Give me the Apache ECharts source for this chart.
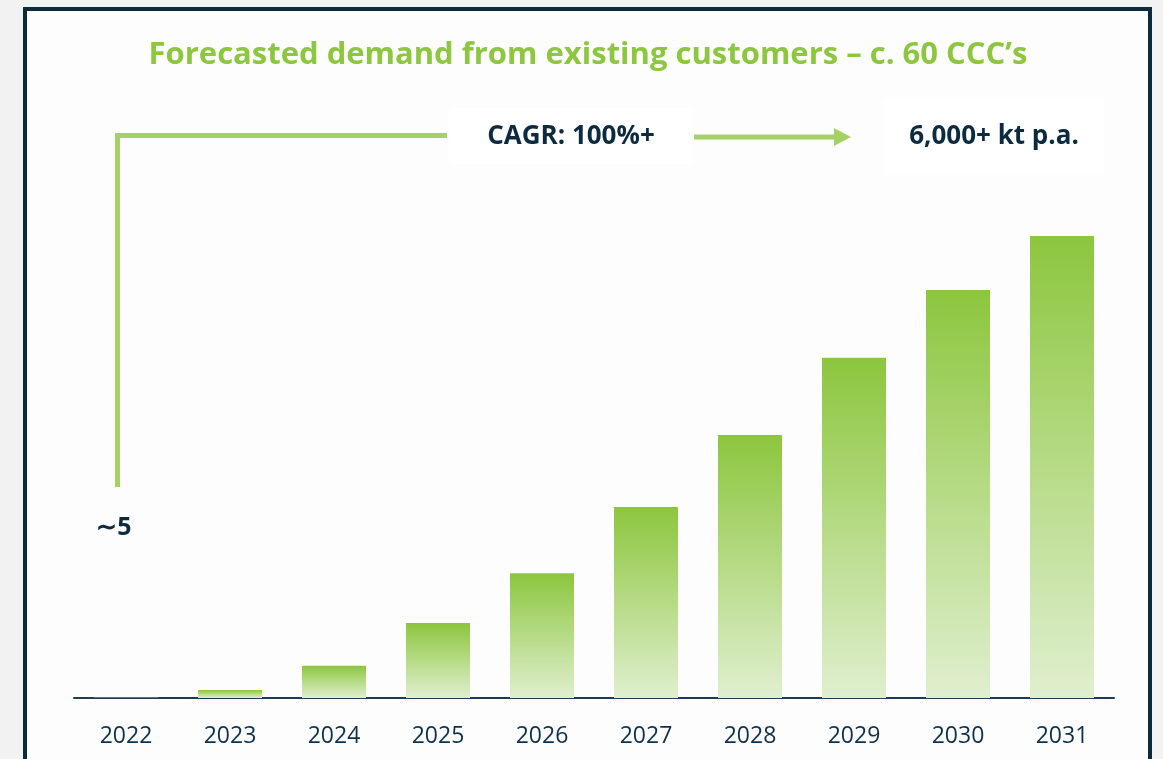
<!DOCTYPE html>
<html>
<head>
<meta charset="utf-8">
<title>Forecasted demand</title>
<style>
  html, body { margin: 0; padding: 0; background: #f2f2f2; }
  #box { width: 1163px; height: 759px; }
</style>
</head>
<body>
<div id="box"></div>
<script src="https://cdn.jsdelivr.net/npm/echarts@6/dist/echarts.min.js"></script>
<script>
// data (kt p.a.)
var years = ['2022', '2023', '2024', '2025', '2026', '2027', '2028', '2029', '2030', '2031'];
var demand = [5, 105, 420, 975, 1620, 2480, 3415, 4420, 5300, 6000];
var titleText = 'Forecasted demand from existing customers \u2013 c. 60 CCC\u2019s';
var cagrText = 'CAGR: 100%+';
var endText = '6,000+ kt p.a.';
var startText = '\u223c5';

var green = '#8dc63f';
var lineGreen = '#a5d165';
var navy = '#0d2b3e';

var chart = echarts.init(document.getElementById('box'));

// gradient for every bar: saturated on top, pale at the foot
var barFill = new echarts.graphic.LinearGradient(0, 0, 0, 1, [
  { offset: 0, color: '#8cc63e' },
  { offset: 0.5, color: '#b6db86' },
  { offset: 1, color: '#e0efcf' }
]);

chart.setOption({
  backgroundColor: '#f2f2f2',
  animation: false,
  grid: { left: 74, right: 49, top: 236, bottom: 61 },
  xAxis: {
    type: 'category',
    data: years,
    axisLine: { lineStyle: { color: '#1f3d50', width: 2 } },
    axisTick: { show: false },
    axisLabel: { color: '#10304a', fontSize: 23, fontFamily: 'Open Sans', margin: 27 }
  },
  yAxis: {
    type: 'value',
    min: 0,
    max: 6000,
    show: false,
    splitLine: { show: false }
  },
  series: [{
    type: 'bar',
    data: demand,
    barWidth: 64,
    itemStyle: { color: barFill },
    z: 5
  }],
  graphic: [
    // panel + dark frame
    {
      type: 'rect', z: 0, silent: true,
      shape: { x: 25, y: 9, width: 1125, height: 800 },
      style: { fill: '#fdfdfd', stroke: '#0b2a3c', lineWidth: 4 }
    },
    {
      type: 'text', z: 10, x: 588, y: 55,
      style: { text: titleText, fill: green, font: 'bold 31px "Open Sans"', align: 'center', verticalAlign: 'middle' }
    },
    // bracket from ~5 up and across
    {
      type: 'polyline', z: 10,
      shape: { points: [[117.5, 487], [117.5, 135.5], [447, 135.5]] },
      style: { stroke: lineGreen, lineWidth: 5, fill: null, lineJoin: 'miter' }
    },
    {
      type: 'rect', z: 10,
      shape: { x: 449, y: 108, width: 243, height: 56, r: 6 },
      style: { fill: '#ffffff' }
    },
    {
      type: 'text', z: 11, x: 571, y: 137,
      style: { text: cagrText, fill: navy, font: 'bold 26px "Open Sans"', align: 'center', verticalAlign: 'middle' }
    },
    {
      type: 'line', z: 10,
      shape: { x1: 694, y1: 137, x2: 836, y2: 137 },
      style: { stroke: lineGreen, lineWidth: 5 }
    },
    {
      type: 'polygon', z: 10,
      shape: { points: [[834, 128], [851, 137], [834, 146]] },
      style: { fill: lineGreen }
    },
    {
      type: 'rect', z: 10,
      shape: { x: 884, y: 98, width: 220, height: 77 },
      style: { fill: '#ffffff' }
    },
    {
      type: 'text', z: 11, x: 994, y: 137,
      style: { text: endText, fill: navy, font: 'bold 26px "Open Sans"', align: 'center', verticalAlign: 'middle' }
    },
    {
      type: 'text', z: 11, x: 114, y: 528,
      style: { text: startText, fill: navy, font: 'bold 25px "Open Sans"', align: 'center', verticalAlign: 'middle' }
    }
  ]
});
</script>
</body>
</html>
